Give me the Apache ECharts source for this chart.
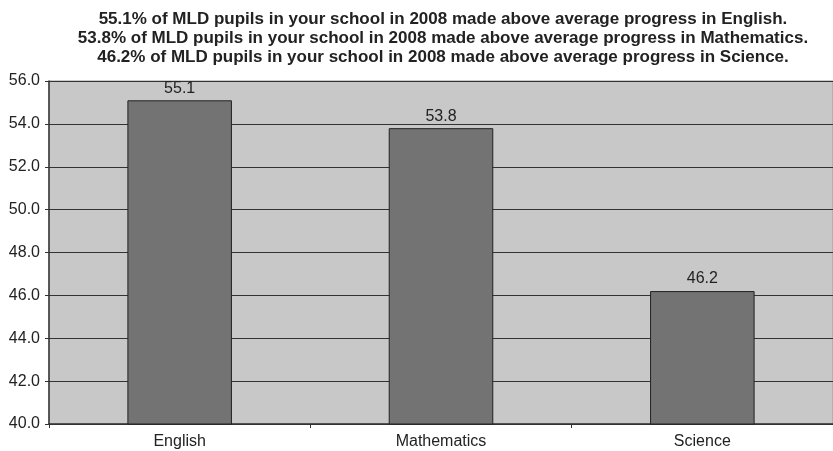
<!DOCTYPE html>
<html>
<head>
<meta charset="utf-8">
<script src="https://cdn.jsdelivr.net/npm/echarts@6/dist/echarts.min.js"></script>
<style>html,body{margin:0;padding:0;background:#fff}#c{width:833px;height:451px}</style>
</head>
<body>
<div id="c"></div>
<script>
var categories = ['English', 'Mathematics', 'Science'];
var values = [55.1, 53.8, 46.2];
var titleLines = [
  '55.1% of MLD pupils in your school in 2008 made above average progress in English.',
  '53.8% of MLD pupils in your school in 2008 made above average progress in Mathematics.',
  '46.2% of MLD pupils in your school in 2008 made above average progress in Science.'
];
var yMin = 40, yMax = 56, yStep = 2;

var FONT = '"Liberation Sans", Arial, sans-serif';
var chart = echarts.init(document.getElementById('c'));
chart.setOption({
  animation: false,
  backgroundColor: '#ffffff',
  graphic: [{
    type: 'text',
    x: 443, y: 10,
    style: {
      text: titleLines.join('\n'),
      textAlign: 'center',
      font: 'bold 17px "Liberation Sans", Arial, sans-serif',
      lineHeight: 19,
      fill: '#222'
    }
  }],
  grid: {
    left: 49, right: 0, top: 81, bottom: 27,
    show: true, backgroundColor: '#c8c8c8', borderColor: '#9a9a9a', borderWidth: 1
  },
  xAxis: {
    type: 'category',
    data: categories,
    axisLine: { lineStyle: { color: '#333', width: 1.5 } },
    axisTick: { show: true, length: 4, lineStyle: { color: '#333' } },
    axisLabel: { color: '#222', fontSize: 16, fontFamily: FONT, margin: 10 }
  },
  yAxis: {
    type: 'value',
    min: yMin, max: yMax, interval: yStep,
    axisLine: { show: true, lineStyle: { color: '#333', width: 1.5 } },
    axisTick: { show: true, length: 4, lineStyle: { color: '#333' } },
    splitLine: { lineStyle: { color: '#333', width: 1 } },
    axisLabel: { color: '#222', fontSize: 16, fontFamily: FONT, margin: 9,
      formatter: function (v) { return v.toFixed(1); } }
  },
  series: [{
    type: 'bar',
    data: values,
    barWidth: '40%',
    itemStyle: { color: '#737373', borderColor: '#222', borderWidth: 1 },
    label: { show: true, position: 'top', distance: 4, color: '#222', fontSize: 16,
      fontFamily: FONT,
      formatter: function (p) { return p.value.toFixed(1); } }
  }]
});
</script>
</body>
</html>
